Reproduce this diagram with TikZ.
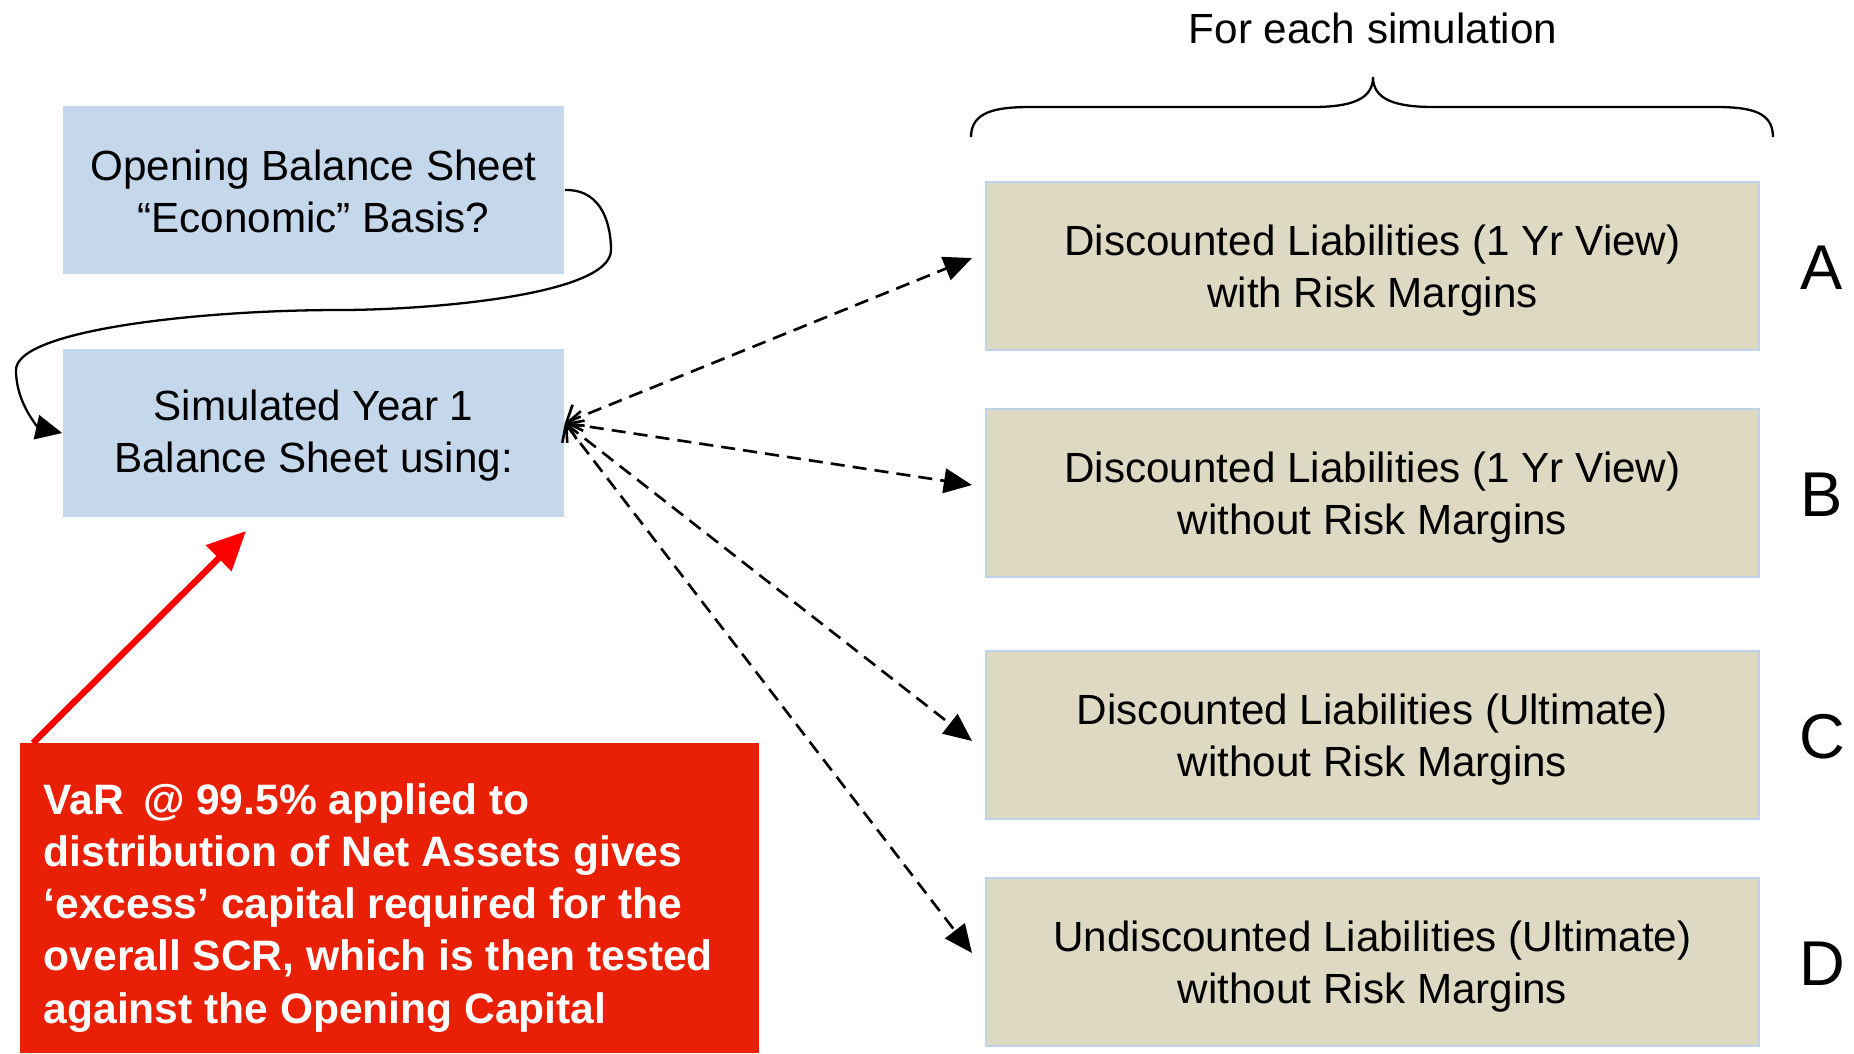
\documentclass[tikz,border=0pt]{standalone}
\usepackage{fontspec}
\setmainfont{Liberation Sans}
\usetikzlibrary{arrows.meta,calc}
\definecolor{boxblue}{RGB}{197,215,235}
\definecolor{boxtan}{RGB}{221,217,195}
\definecolor{boxedge}{RGB}{190,210,232}
\definecolor{redbox}{RGB}{233,32,6}
\tikzset{
  bluebox/.style={fill=boxblue, draw=none, minimum width=5.01cm, minimum height=1.68cm, inner sep=0pt},
  tanbox/.style={fill=boxtan, draw=boxedge, line width=0.6pt, minimum width=7.73cm, minimum height=1.68cm, inner sep=0pt},
  boxtext/.style={align=center, inner sep=0pt, font=\fontsize{12}{14.8}\selectfont},
  letter/.style={font=\fontsize{18}{20}\selectfont, inner sep=0pt},
  dasharrow/.style={line width=0.75pt, dash pattern=on 4pt off 2.3pt, {Straight Barb[length=3.5pt,width=8pt]}-{Triangle[length=8pt,width=7pt]}},
  curvearrow/.style={line width=0.65pt, -{Triangle[length=7.5pt,width=7pt]}},
  redarrow/.style={draw=red, line width=1.8pt, -{Triangle[length=11pt,width=10pt]}},
}
\begin{document}
\begin{tikzpicture}[x=0.01cm,y=-0.01cm]
\useasboundingbox (0,0) rectangle (1854,1053);
% left boxes
\node[bluebox] (open) at (313.5,190) {};
\node[boxtext] (opentext) at ($(open.center)+(0,1)$) {Opening Balance Sheet\\“Economic” Basis?};
\node[bluebox] (sim) at (313.5,433) {};
\node[boxtext] (simtext) at ($(sim.center)+(0,3)$) {Simulated Year 1\\Balance Sheet using:};
% right boxes
\node[tanbox] (la) at (1372.5,266) {};
\node[tanbox] (lb) at (1372.5,493) {};
\node[tanbox] (lc) at (1372.5,735) {};
\node[tanbox] (ld) at (1372.5,962) {};
\node[boxtext] (latext) at ($(la.center)+(0,5)$) {Discounted Liabilities (1 Yr View)\\with Risk Margins};
\node[boxtext] (lbtext) at ($(lb.center)+(0,5)$) {Discounted Liabilities (1 Yr View)\\without Risk Margins};
\node[boxtext] (lctext) at ($(lc.center)+(0,5)$) {Discounted Liabilities (Ultimate)\\without Risk Margins};
\node[boxtext] (ldtext) at ($(ld.center)+(0,5)$) {Undiscounted Liabilities (Ultimate)\\without Risk Margins};
% letters
\node[letter] (ta) at (1822,268) {A};
\node[letter] (tb) at (1822,495) {B};
\node[letter] (tc) at (1822,737) {C};
\node[letter] (td) at (1822,964) {D};
% title and brace
\node[boxtext] (fes) at (1373,28) {For each simulation};
\coordinate (bl) at (971,137);
\coordinate (br) at (1773,137);
\coordinate (btip) at (1373,77);
\draw[line width=0.65pt] (bl) .. controls (971,112) and (995,107) .. (1030,107) -- (1312,107)
  .. controls (1350,107) and (1373,100) .. (btip)
  .. controls (1373,100) and (1396,107) .. (1434,107) -- (1716,107)
  .. controls (1751,107) and (1773,112) .. (br);
% red box
\node[fill=redbox, minimum width=7.39cm, minimum height=3.10cm, inner sep=0pt] (red) at (389.5,898) {};
\node[anchor=west, align=left, text=white, inner sep=0pt, font=\bfseries\fontsize{12.1}{14.8}\selectfont] (redtext) at (43,908)
  {VaR\, @ 99.5\% applied to\\distribution of Net Assets gives\\‘excess’ capital required for the\\overall SCR, which is then tested\\against the Opening Capital};
% red arrow
\coordinate (rtail) at (33,743);
\coordinate (rtip) at (246,531);
\draw[redarrow] (rtail) -- (rtip);
% curved connector
\draw[curvearrow] (open.east) .. controls (605,189) and (611,230) .. (611,250)
  .. controls (611,295) and (430,310) .. (339,310)
  .. controls (200,310) and (16,330) .. (16,370)
  .. controls (16,405) and (40,428) .. (sim.west);
% dashed arrows
\coordinate (src) at ($(sim.east)+(0,-10)$);
\coordinate (ea) at (972,258);
\coordinate (eb) at (972,485);
\coordinate (ec) at (972,741);
\coordinate (ed) at (972,953);
\draw[dasharrow] (src) -- (ea);
\draw[dasharrow] (src) -- (eb);
\draw[dasharrow] (src) -- (ec);
\draw[dasharrow] (src) -- (ed);
\end{tikzpicture}
\end{document}
